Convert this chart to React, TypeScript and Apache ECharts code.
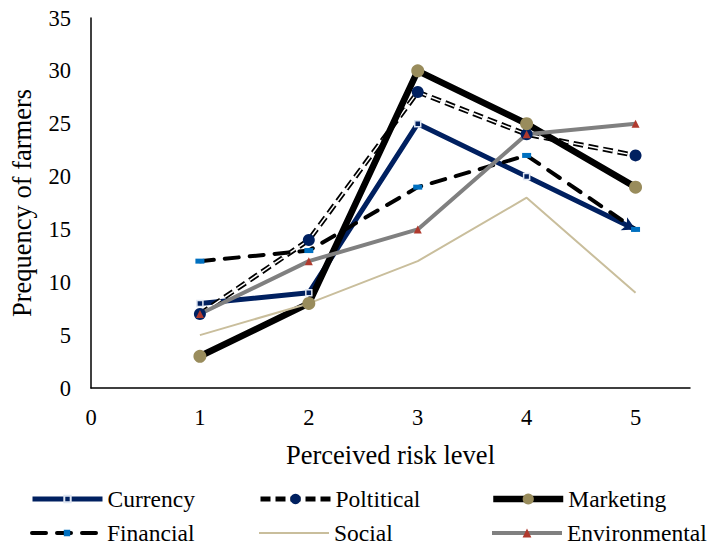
import React, { useEffect, useRef } from "react";
import * as echarts from "echarts";

const riskLevels = [1, 2, 3, 4, 5];
const currency = [8, 9, 25, 20, 15];
const political = [7, 14, 28, 24, 22];
const marketing = [3, 8, 30, 25, 19];
const financial = [12, 13, 19, 22, 15];
const social = [5, 8, 12, 18, 9];
const environmental = [7, 12, 15, 24, 25];
const yTicks = [0, 5, 10, 15, 20, 25, 30, 35];

const FONT = "'Liberation Serif', 'DejaVu Serif', serif";

const pts = (vals: number[]) => vals.map((v, i) => [riskLevels[i], v]);

export default function App() {
  const ref = useRef<HTMLDivElement>(null);
  useEffect(() => {
    const chart = echarts.init(ref.current!, null, { renderer: "svg" });
    const last = currency.length - 1;
    const currencyData = currency.map((v, i) =>
      i === last
        ? { value: [riskLevels[i], v], symbol: "arrow", symbolSize: [11, 13], symbolRotate: -116, itemStyle: { color: "#002060", borderWidth: 0 } }
        : [riskLevels[i], v]
    );
    const legendRow = (name: string, left: number, top: number, lw: number, iconH: number, hideSymbol = false) => ({
      data: [name],
      left,
      top,
      padding: 0,
      itemWidth: 70,
      itemHeight: iconH,
      selectedMode: false,
      lineStyle: { width: lw },
      ...(hideSymbol ? { itemStyle: { opacity: 0 } } : {}),
      textStyle: { fontFamily: FONT, fontSize: 23.5, color: "#000" },
    });
    chart.setOption({
      animation: false,
      backgroundColor: "#fff",
      grid: { left: 88, right: 34, top: 18, bottom: 158 },
      xAxis: {
        type: "value",
        min: 0,
        max: 5.5,
        interval: 1,
        name: "Perceived risk level",
        nameLocation: "middle",
        nameGap: 53,
        nameTextStyle: { fontFamily: FONT, fontSize: 26.5, color: "#000" },
        axisLine: { lineStyle: { color: "#000", width: 1.5 } },
        axisTick: { show: false },
        splitLine: { show: false },
        axisLabel: {
          fontFamily: FONT,
          fontSize: 22.5,
          color: "#000",
          margin: 18,
          formatter: (v: number) => (Number.isInteger(v) ? String(v) : ""),
        },
      },
      yAxis: {
        type: "value",
        min: yTicks[0],
        max: yTicks[yTicks.length - 1],
        interval: 5,
        name: "Prequency of farmers",
        nameLocation: "middle",
        nameGap: 56,
        nameTextStyle: { fontFamily: FONT, fontSize: 26.5, color: "#000" },
        axisLine: { show: true, lineStyle: { color: "#000", width: 1.5 } },
        axisTick: { show: false },
        splitLine: { show: false },
        axisLabel: { fontFamily: FONT, fontSize: 22.5, color: "#000", margin: 20 },
      },
      legend: [
        legendRow("Currency", 30, 487, 5, 8),
        legendRow("Poltitical", 258, 487, 5, 13),
        legendRow("Marketing", 490, 487, 6.5, 14),
        legendRow("Financial", 30, 521, 4, 8),
        legendRow("Social", 258, 521, 2, 13, true),
        legendRow("Environmental", 490, 521, 4, 11),
      ],
      series: [
        {
          name: "Currency",
          type: "line",
          data: currencyData,
          symbol: "rect",
          symbolSize: 6,
          itemStyle: { color: "#002060", borderColor: "#dfe6f2", borderWidth: 1.5 },
          lineStyle: { color: "#002060", width: 5 },
        },
        {
          name: "Poltitical",
          type: "line",
          data: pts(political),
          symbol: "circle",
          symbolSize: 12,
          itemStyle: { color: "#002060" },
          lineStyle: { color: "#000", width: 5, type: [10, 5] },
        },
        {
          name: "Poltitical_inner",
          type: "line",
          data: pts(political),
          symbol: "none",
          silent: true,
          lineStyle: { color: "#fff", width: 1.5, type: [10, 5] },
        },
        {
          name: "Marketing",
          type: "line",
          data: pts(marketing),
          symbol: "circle",
          symbolSize: 13,
          itemStyle: { color: "#998C5C" },
          lineStyle: { color: "#000", width: 6.5 },
        },
        {
          name: "Financial",
          type: "line",
          data: pts(financial),
          symbol: "rect",
          symbolSize: [9, 5],
          itemStyle: { color: "#0070C0" },
          lineStyle: { color: "#000", width: 4, type: [14, 11], cap: "round" },
        },
        {
          name: "Social",
          type: "line",
          data: pts(social),
          symbol: "none",
          itemStyle: { color: "#C9BE9C" },
          lineStyle: { color: "#C9BE9C", width: 2 },
        },
        {
          name: "Environmental",
          type: "line",
          data: pts(environmental),
          symbol: "triangle",
          symbolSize: 8,
          itemStyle: { color: "#B03A2E" },
          lineStyle: { color: "#808080", width: 4 },
        },
      ],
    });
    return () => chart.dispose();
  }, []);
  return (
    <div
      ref={ref}
      style={{ position: "fixed", left: 0, top: 0, width: 724, height: 546, background: "#fff" }}
    />
  );
}
